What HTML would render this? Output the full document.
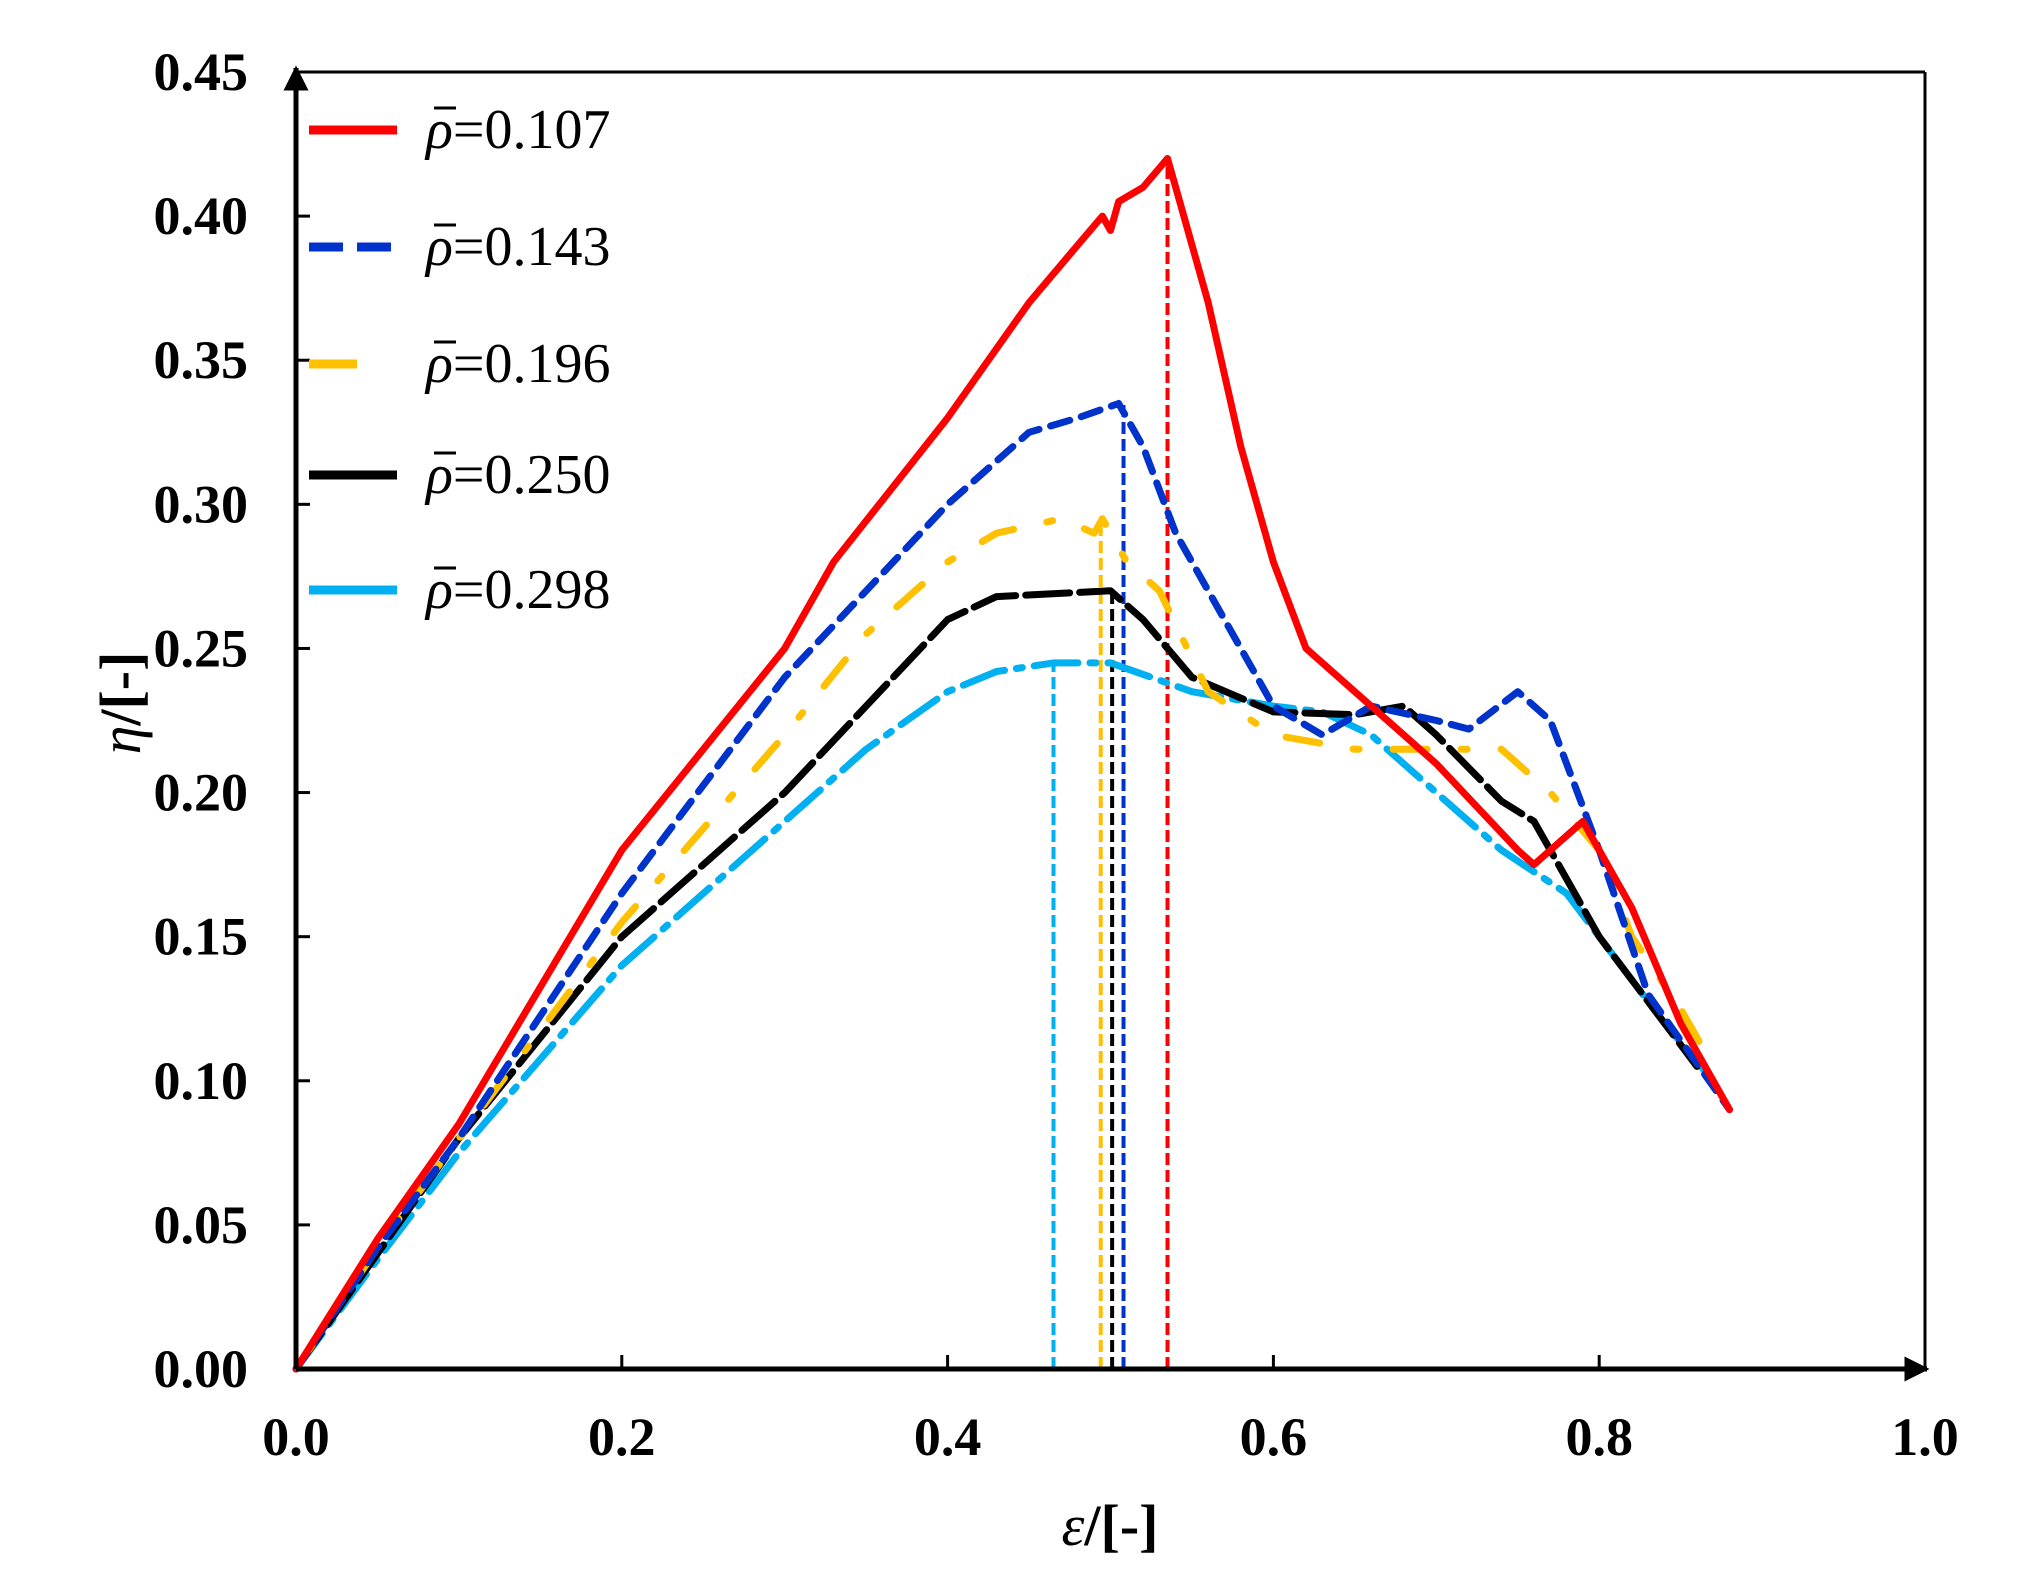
<!DOCTYPE html>
<html><head><meta charset="utf-8">
<style>
html,body{margin:0;padding:0;background:#fff;}
svg{display:block;}
text{font-family:"Liberation Serif",serif;}
</style></head>
<body>
<svg id="chart" width="2041" height="1593" viewBox="0 0 2041 1593">
<defs>
<marker id="arr" viewBox="0 0 10 10" refX="9" refY="5" markerWidth="5" markerHeight="5" orient="auto"><path d="M0,0 L10,5 L0,10 z" fill="#000"/></marker>
</defs>
<g id="plot"></g>
<g id="axes"></g>
<g id="legend"></g>
</svg>
<script>
const xTicks = [0.0, 0.2, 0.4, 0.6, 0.8, 1.0];
const xTickLabels = ["0.0","0.2","0.4","0.6","0.8","1.0"];
const yTicks = [0,0.05,0.10,0.15,0.20,0.25,0.30,0.35,0.40,0.45];
const yTickLabels = ["0.00","0.05","0.10","0.15","0.20","0.25","0.30","0.35","0.40","0.45"];
const seriesNames = ["0.107","0.143","0.196","0.250","0.298"];
const s107x = [0,0.05,0.1,0.2,0.3,0.33,0.4,0.45,0.48,0.495,0.5,0.505,0.52,0.535,0.54,0.56,0.58,0.6,0.62,0.65,0.7,0.75,0.76,0.77,0.79,0.82,0.85,0.88];
const s107y = [0,0.045,0.085,0.18,0.25,0.28,0.33,0.37,0.39,0.40,0.395,0.405,0.41,0.42,0.41,0.37,0.32,0.28,0.25,0.235,0.21,0.18,0.175,0.18,0.19,0.16,0.12,0.09];
const s143x = [0,0.05,0.1,0.2,0.3,0.4,0.45,0.48,0.505,0.52,0.54,0.57,0.6,0.63,0.66,0.7,0.72,0.75,0.77,0.8,0.83,0.88];
const s143y = [0,0.042,0.08,0.165,0.24,0.3,0.325,0.33,0.335,0.32,0.29,0.26,0.23,0.22,0.23,0.225,0.222,0.235,0.225,0.18,0.13,0.09];
const s196x = [0,0.05,0.1,0.2,0.3,0.35,0.4,0.43,0.47,0.49,0.495,0.51,0.53,0.56,0.6,0.65,0.7,0.74,0.77,0.8,0.82,0.85,0.87];
const s196y = [0,0.042,0.08,0.155,0.22,0.255,0.28,0.29,0.295,0.29,0.295,0.28,0.27,0.235,0.22,0.215,0.215,0.215,0.2,0.18,0.15,0.125,0.105];
const s250x = [0,0.05,0.1,0.2,0.3,0.35,0.4,0.43,0.5,0.52,0.55,0.6,0.65,0.68,0.7,0.74,0.76,0.785,0.8,0.84,0.86];
const s250y = [0,0.04,0.08,0.15,0.2,0.23,0.26,0.268,0.27,0.26,0.24,0.228,0.227,0.23,0.22,0.197,0.19,0.165,0.15,0.12,0.105];
const s298x = [0,0.05,0.1,0.2,0.3,0.35,0.4,0.43,0.465,0.5,0.55,0.6,0.63,0.66,0.7,0.74,0.78,0.8,0.84,0.87];
const s298y = [0,0.038,0.075,0.14,0.19,0.215,0.235,0.242,0.245,0.245,0.235,0.23,0.228,0.22,0.2,0.18,0.165,0.15,0.12,0.1];
const peakX = [0.535,0.508,0.494,0.501,0.465];
const peakY = [0.42,0.335,0.295,0.27,0.245];

const X0=296, X1=1925, Y0=1369, Y45=72;
function sx(v){return X0+(X1-X0)*v;}
function sy(v){return Y0-(Y0-Y45)*v/0.45;}
const NS="http://www.w3.org/2000/svg";
function mk(tag,attrs,parent){const e=document.createElementNS(NS,tag);for(const k in attrs)e.setAttribute(k,attrs[k]);parent.appendChild(e);return e;}

const plot=document.getElementById('plot'), axes=document.getElementById('axes'), legend=document.getElementById('legend');
const colors=["#ff0000","#0033cc","#ffc000","#000000","#00b0f0"];
const dashes=["none","20 12","34 34 6 34","44 10","44 12 6 12"];
const xs=[s107x,s143x,s196x,s250x,s298x], ys=[s107y,s143y,s196y,s250y,s298y];

for(let i=4;i>=0;i--){
  const l=mk('line',{x1:sx(peakX[i]),x2:sx(peakX[i]),y1:sy(0),y2:sy(peakY[i]),stroke:colors[i],'stroke-width':4,'stroke-dasharray':'12 5'},plot);
  
  
}
for(let i=4;i>=0;i--){
  const d=xs[i].map((v,j)=>(j?'L':'M')+sx(v).toFixed(1)+','+sy(ys[i][j]).toFixed(1)).join(' ');
  const p=mk('path',{d:d,fill:'none',stroke:colors[i],'stroke-width':7,'stroke-dasharray':dashes[i],'stroke-linejoin':'round','stroke-linecap':'round'},plot);
  
  
}
mk('line',{x1:X0,x2:X1,y1:Y45,y2:Y45,stroke:'#000','stroke-width':3},axes);
mk('line',{x1:X1,x2:X1,y1:Y45,y2:Y0,stroke:'#000','stroke-width':3},axes);
mk('line',{x1:X0,x2:X1+2,y1:Y0,y2:Y0,stroke:'#000','stroke-width':5,'marker-end':'url(#arr)'},axes);
mk('line',{x1:X0,x2:X0,y1:Y0,y2:Y45-4,stroke:'#000','stroke-width':5,'marker-end':'url(#arr)'},axes);
xTicks.forEach((v,i)=>{
  if(i>0&&i<xTicks.length-1){const t=mk('line',{x1:sx(v),x2:sx(v),y1:Y0,y2:Y0-14,stroke:'#000','stroke-width':3},axes);
  }
  const tx=mk('text',{x:sx(v),y:1455,'text-anchor':'middle','font-size':54,'font-weight':'bold'},axes);
  tx.textContent=xTickLabels[i];
  
  
});
yTicks.forEach((v,i)=>{
  if(i>0){const t=mk('line',{x1:X0,x2:X0+14,y1:sy(v),y2:sy(v),stroke:'#000','stroke-width':3},axes);
  }
  const tx=mk('text',{x:248,y:sy(v)+18,'text-anchor':'end','font-size':54,'font-weight':'bold'},axes);
  tx.textContent=yTickLabels[i];
  
  
});
const xt=mk('text',{x:1110,y:1545,'text-anchor':'middle','font-size':58,'font-weight':'bold'},axes);
xt.innerHTML='<tspan font-style="italic" font-weight="normal">ε</tspan>/[-]';

const yt=mk('text',{x:0,y:0,'text-anchor':'middle','font-size':58,'font-weight':'bold',transform:'translate(140,703) rotate(-90)'},axes);
yt.innerHTML='<tspan font-style="italic" font-weight="normal">η</tspan>/[-]';

const legY=[130,247,364,475,590];
for(let i=0;i<5;i++){
  const l=mk('line',{x1:309,x2:397,y1:legY[i],y2:legY[i],stroke:colors[i],'stroke-width':9,'stroke-dasharray':i==0||i==3||i==4?'none':(i==1?'34 14':'48 40 6 40')},legend);
  
  
  const t=mk('text',{x:426,y:legY[i]+18,'font-size':56},legend);
  t.innerHTML='<tspan font-style="italic">ρ</tspan>=0.'+seriesNames[i].slice(2);
  
  
  const b=mk('line',{x1:434,x2:456,y1:legY[i]-22,y2:legY[i]-22,stroke:'#000','stroke-width':3},legend);
  
  
}
</script>
</body></html>
